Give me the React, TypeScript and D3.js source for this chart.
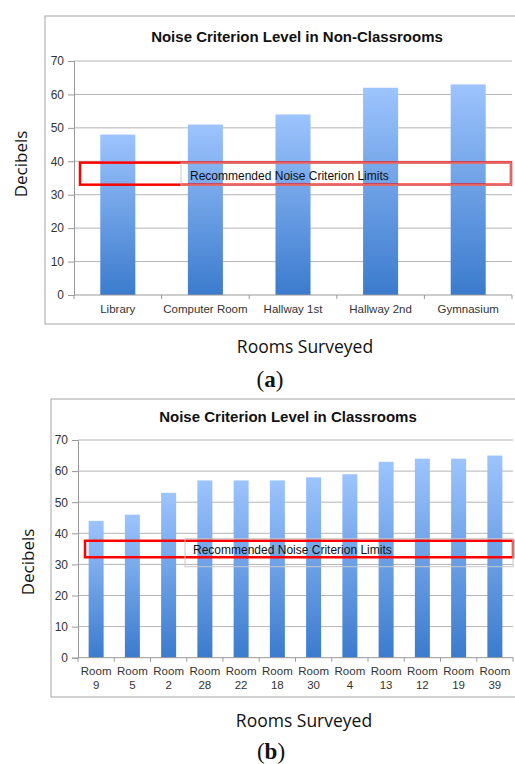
// Noise criterion bar charts: (a) non-classrooms, (b) classrooms
import React, { useRef, useEffect } from "react";
import * as d3 from "d3";

const nonClassroomNames = ["Library", "Computer Room", "Hallway 1st", "Hallway 2nd", "Gymnasium"];
const nonClassroomLevels = [48, 51, 54, 62, 63];
const classroomNames = ["Room 9", "Room 5", "Room 2", "Room 28", "Room 22", "Room 18", "Room 30", "Room 4", "Room 13", "Room 12", "Room 19", "Room 39"];
const classroomLevels = [44, 46, 53, 57, 57, 57, 58, 59, 63, 64, 64, 65];
const decibelTicks = [0, 10, 20, 30, 40, 50, 60, 70];
const limitBandA = [33, 39.6];
const limitBandB = [32.3, 37.6];
const limitText = "Recommended Noise Criterion Limits";

const CHART_FONT = "'Liberation Sans', Arial, sans-serif";
const OUTER_FONT = "'Open Sans', 'Noto Sans', sans-serif";

interface IPanel {
  tag: string;
  title: string;
  names: string[];
  levels: number[];
  band: number[];
  wrap: boolean;
  frameX: number; frameTop: number; frameBottom: number;
  left: number; right: number; top: number; bottom: number;
  padding: number;
  titleX: number; titleY: number;
  limitX0: number; limitX1: number;
  noteX0: number; noteY0: number; noteY1: number;
  noteTextX: number; noteTextY: number;
  labelY: number;
  yTitleX: number; yTitleY: number;
  xTitleX: number; xTitleY: number;
  tagX: number; tagY: number;
}

const panels: IPanel[] = [
  {
    tag: "a", title: "Noise Criterion Level in Non-Classrooms",
    names: nonClassroomNames, levels: nonClassroomLevels, band: limitBandA, wrap: false,
    frameX: 45, frameTop: 16, frameBottom: 324,
    left: 74, right: 512, top: 61, bottom: 295, padding: 0.6,
    titleX: 297, titleY: 42,
    limitX0: 80, limitX1: 511,
    noteX0: 181, noteY0: 163, noteY1: 185, noteTextX: 190, noteTextY: 180,
    labelY: 313,
    yTitleX: 20, yTitleY: 164, xTitleX: 305, xTitleY: 353,
    tagX: 270, tagY: 387,
  },
  {
    tag: "b", title: "Noise Criterion Level in Classrooms",
    names: classroomNames, levels: classroomLevels, band: limitBandB, wrap: true,
    frameX: 51, frameTop: 399, frameBottom: 697,
    left: 78, right: 513, top: 440, bottom: 657.7, padding: 0.586,
    titleX: 288, titleY: 422,
    limitX0: 85, limitX1: 513,
    noteX0: 185, noteY0: 538.7, noteY1: 566.7, noteTextX: 193, noteTextY: 554,
    labelY: 675,
    yTitleX: 27, yTitleY: 562, xTitleX: 304, xTitleY: 727,
    tagX: 271, tagY: 759,
  },
];

function drawPanel(svg: any, p: IPanel, idx: number) {
  const x = d3.scaleBand<string>()
    .domain(p.names)
    .range([p.left, p.right])
    .paddingInner(p.padding)
    .paddingOuter(p.padding / 2);
  const y = d3.scaleLinear().domain([0, 70]).range([p.bottom, p.top]);

  const g = svg.append("g");

  // outer chart frame (right edge runs off the page)
  g.append("rect")
    .attr("x", p.frameX).attr("y", p.frameTop)
    .attr("width", 520 - p.frameX).attr("height", p.frameBottom - p.frameTop)
    .attr("fill", "#fff").attr("stroke", "#a6a6a6").attr("stroke-width", 1);

  g.append("text")
    .attr("x", p.titleX).attr("y", p.titleY)
    .attr("text-anchor", "middle")
    .style("font-family", CHART_FONT).style("font-size", "15px").style("font-weight", "bold")
    .style("fill", "#111")
    .text(p.title);

  // gridlines
  g.selectAll("line.grid")
    .data(decibelTicks.filter(d => d > 0))
    .enter().append("line")
    .attr("class", "grid")
    .attr("x1", p.left).attr("x2", p.right)
    .attr("y1", (d: number) => y(d)).attr("y2", (d: number) => y(d))
    .attr("stroke", "#b5b5b5").attr("stroke-width", 1);

  // bar gradient
  const gradId = "barGrad" + idx;
  const grad = svg.append("defs").append("linearGradient")
    .attr("id", gradId).attr("x1", 0).attr("y1", 0).attr("x2", 0).attr("y2", 1);
  grad.append("stop").attr("offset", "0%").attr("stop-color", "#9dc4fd");
  grad.append("stop").attr("offset", "100%").attr("stop-color", "#3b7bcd");

  g.selectAll("rect.bar")
    .data(p.levels)
    .enter().append("rect")
    .attr("class", "bar")
    .attr("x", (d: number, i: number) => x(p.names[i]))
    .attr("y", (d: number) => y(d))
    .attr("width", x.bandwidth())
    .attr("height", (d: number) => y(0) - y(d))
    .attr("fill", `url(#${gradId})`);

  // y axis
  const yAxis = g.append("g")
    .attr("transform", `translate(${p.left},0)`)
    .call(d3.axisLeft(y).tickValues(decibelTicks).tickSize(6).tickPadding(4));
  yAxis.select(".domain").attr("stroke", "#999");
  yAxis.selectAll(".tick line").attr("stroke", "#999");
  yAxis.selectAll("text")
    .style("font-family", CHART_FONT).style("font-size", "12px").style("fill", "#333");

  // x axis: line + ticks at category boundaries
  g.append("line")
    .attr("x1", p.left).attr("x2", p.right)
    .attr("y1", y(0)).attr("y2", y(0))
    .attr("stroke", "#999");
  const step = x.step();
  g.selectAll("line.xtick")
    .data(d3.range(p.names.length + 1))
    .enter().append("line")
    .attr("class", "xtick")
    .attr("x1", (i: number) => p.left + i * step).attr("x2", (i: number) => p.left + i * step)
    .attr("y1", y(0)).attr("y2", y(0) + 4)
    .attr("stroke", "#999");

  const labels = g.selectAll("text.xlab")
    .data(p.names)
    .enter().append("text")
    .attr("class", "xlab")
    .attr("text-anchor", "middle")
    .style("font-family", CHART_FONT).style("font-size", "11.5px").style("fill", "#333");
  labels.each(function (this: any, d: string) {
    const cx = (x(d) as number) + x.bandwidth() / 2;
    const parts = p.wrap ? d.split(" ") : [d];
    parts.forEach((s, k) => {
      d3.select(this).append("tspan")
        .attr("x", cx).attr("y", p.labelY + k * 13.5)
        .text(s);
    });
  });

  // recommended limits band + note box
  g.append("rect")
    .attr("x", p.limitX0).attr("y", y(p.band[1]))
    .attr("width", p.limitX1 - p.limitX0).attr("height", y(p.band[0]) - y(p.band[1]))
    .attr("fill", "none").attr("stroke", "#ff0000").attr("stroke-width", 2.5);
  g.append("rect")
    .attr("x", p.noteX0).attr("y", p.noteY0)
    .attr("width", p.limitX1 - p.noteX0).attr("height", p.noteY1 - p.noteY0)
    .attr("fill", "none").attr("stroke", "#c8c8c8").attr("stroke-width", 1);
  g.append("text")
    .attr("x", p.noteTextX).attr("y", p.noteTextY)
    .style("font-family", CHART_FONT).style("font-size", "12px").style("fill", "#111")
    .text(limitText);

  // outer axis titles
  g.append("text")
    .attr("transform", `translate(${p.yTitleX},${p.yTitleY}) rotate(-90)`)
    .attr("text-anchor", "middle").attr("dominant-baseline", "central")
    .style("font-family", OUTER_FONT).style("font-size", "17px").style("fill", "#111")
    .text("Decibels");
  g.append("text")
    .attr("x", p.xTitleX).attr("y", p.xTitleY)
    .attr("text-anchor", "middle")
    .style("font-family", OUTER_FONT).style("font-size", "17.5px").style("fill", "#111")
    .text("Rooms Surveyed");

  const tag = g.append("text")
    .attr("x", p.tagX).attr("y", p.tagY)
    .attr("text-anchor", "middle")
    .style("font-family", "'Liberation Serif', 'DejaVu Serif', serif").style("font-size", "23px")
    .style("fill", "#111");
  tag.append("tspan").text("(");
  tag.append("tspan").style("font-weight", "bold").text(p.tag);
  tag.append("tspan").text(")");
}

export default function App() {
  const ref = useRef<SVGSVGElement>(null);

  useEffect(() => {
    const svg = d3.select(ref.current);
    svg.selectAll("*").remove();
    panels.forEach((p, i) => drawPanel(svg, p, i));
  }, []);

  return (
    <svg
      ref={ref}
      width={515}
      height={764}
      style={{ position: "absolute", left: 0, top: 0, background: "#fff" }}
    />
  );
}
